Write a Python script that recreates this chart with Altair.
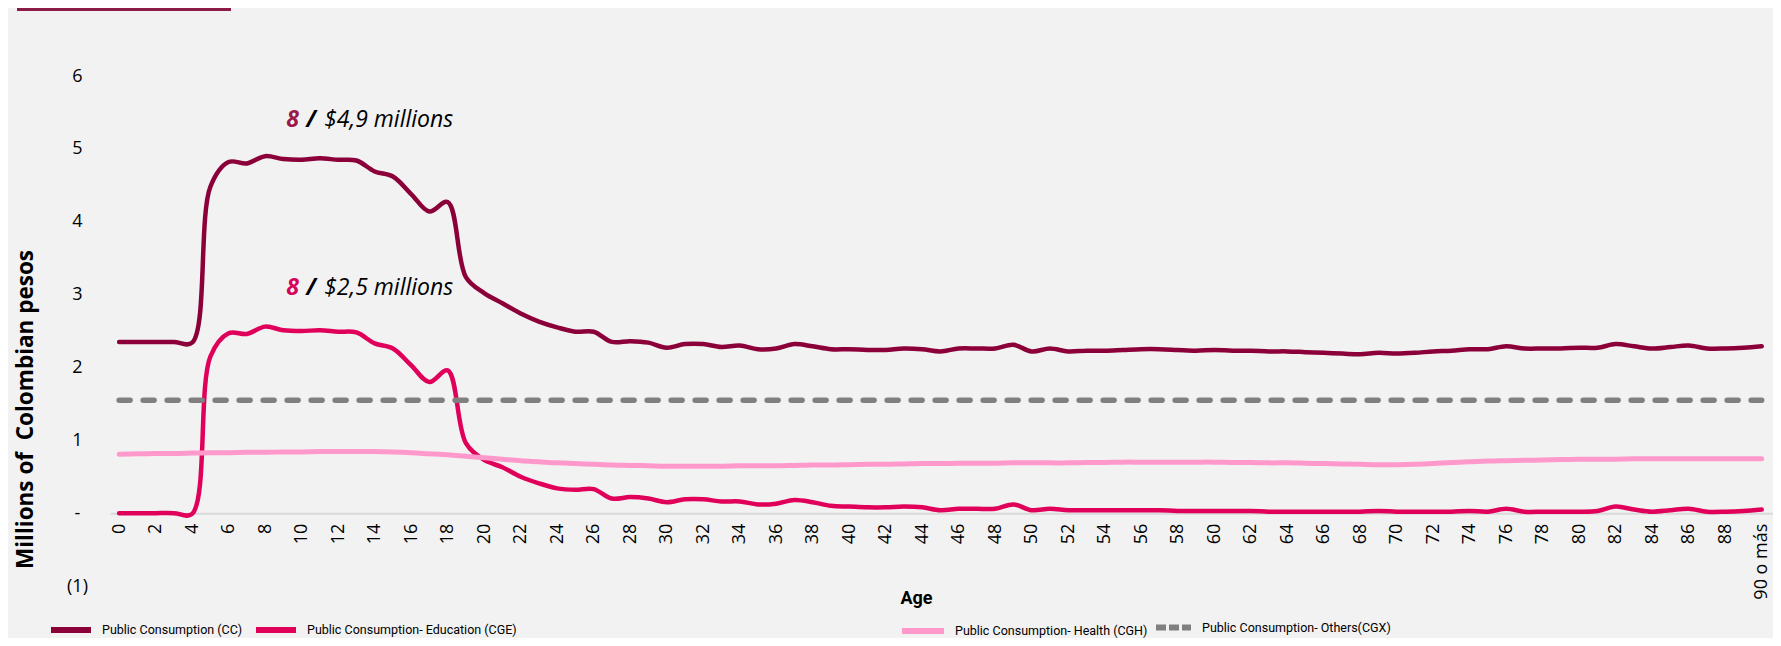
import altair as alt
import pandas as pd

# ---------------- data ----------------
ages = list(range(91))

cc = [2.35, 2.35, 2.35, 2.35, 2.34, 4.48, 4.82, 4.80, 4.90, 4.86,
      4.85, 4.87, 4.85, 4.84, 4.69, 4.62, 4.38, 4.14, 4.27, 3.24,
      3.02, 2.88, 2.74, 2.63, 2.55, 2.49, 2.49, 2.35, 2.36, 2.34,
      2.27, 2.32, 2.32, 2.28, 2.30, 2.25, 2.26, 2.32, 2.29, 2.25,
      2.25, 2.24, 2.24, 2.26, 2.25, 2.22, 2.26, 2.26, 2.26, 2.31,
      2.22, 2.26, 2.22, 2.23, 2.23, 2.24, 2.25, 2.25, 2.24, 2.23,
      2.24, 2.23, 2.23, 2.22, 2.22, 2.21, 2.20, 2.19, 2.18, 2.20,
      2.19, 2.20, 2.22, 2.23, 2.25, 2.25, 2.29, 2.26, 2.26, 2.26,
      2.27, 2.27, 2.32, 2.29, 2.26, 2.28, 2.30, 2.26, 2.26, 2.27,
      2.29]

cge = [0.00, 0.00, 0.00, 0.00, -0.01, 2.15, 2.47, 2.46, 2.56, 2.51,
       2.50, 2.51, 2.49, 2.48, 2.33, 2.26, 2.03, 1.80, 1.96, 0.96,
       0.73, 0.63, 0.50, 0.41, 0.34, 0.32, 0.33, 0.20, 0.22, 0.20,
       0.15, 0.19, 0.19, 0.16, 0.16, 0.12, 0.13, 0.18, 0.15, 0.10,
       0.09, 0.08, 0.08, 0.09, 0.08, 0.04, 0.06, 0.06, 0.06, 0.12,
       0.04, 0.06, 0.04, 0.04, 0.04, 0.04, 0.04, 0.04, 0.03, 0.03,
       0.03, 0.03, 0.03, 0.02, 0.02, 0.02, 0.02, 0.02, 0.02, 0.03,
       0.02, 0.02, 0.02, 0.02, 0.03, 0.02, 0.06, 0.02, 0.02, 0.02,
       0.02, 0.03, 0.09, 0.05, 0.02, 0.04, 0.06, 0.02, 0.02, 0.03,
       0.05]

cgh = [0.81, 0.815, 0.82, 0.82, 0.825, 0.83, 0.83, 0.835, 0.835, 0.84,
       0.84, 0.845, 0.845, 0.845, 0.845, 0.84, 0.83, 0.815, 0.80, 0.78,
       0.76, 0.74, 0.72, 0.705, 0.69, 0.68, 0.67, 0.66, 0.655, 0.65,
       0.645, 0.645, 0.645, 0.645, 0.65, 0.65, 0.65, 0.655, 0.66, 0.66,
       0.665, 0.67, 0.67, 0.675, 0.68, 0.68, 0.685, 0.685, 0.685, 0.69,
       0.69, 0.69, 0.69, 0.695, 0.695, 0.70, 0.70, 0.70, 0.70, 0.70,
       0.70, 0.695, 0.695, 0.69, 0.69, 0.685, 0.68, 0.675, 0.67, 0.665,
       0.665, 0.67, 0.68, 0.695, 0.705, 0.715, 0.72, 0.725, 0.73, 0.735,
       0.74, 0.74, 0.74, 0.745, 0.745, 0.745, 0.745, 0.745, 0.745, 0.745,
       0.745]

cgx = [1.55, 1.55, 1.55, 1.55, 1.55, 1.55, 1.55, 1.55, 1.55, 1.55,
       1.55, 1.55, 1.55, 1.55, 1.55, 1.55, 1.55, 1.55, 1.55, 1.55,
       1.55, 1.55, 1.55, 1.55, 1.55, 1.55, 1.55, 1.55, 1.55, 1.55,
       1.55, 1.55, 1.55, 1.55, 1.55, 1.55, 1.55, 1.55, 1.55, 1.55,
       1.55, 1.55, 1.55, 1.55, 1.55, 1.55, 1.55, 1.55, 1.55, 1.55,
       1.55, 1.55, 1.55, 1.55, 1.55, 1.55, 1.55, 1.55, 1.55, 1.55,
       1.55, 1.55, 1.55, 1.55, 1.55, 1.55, 1.55, 1.55, 1.55, 1.55,
       1.55, 1.55, 1.55, 1.55, 1.55, 1.55, 1.55, 1.55, 1.55, 1.55,
       1.55, 1.55, 1.55, 1.55, 1.55, 1.55, 1.55, 1.55, 1.55, 1.55,
       1.55]

series_names = [
    "Public Consumption (CC)",
    "Public Consumption- Education (CGE)",
    "Public Consumption- Health (CGH)",
    "Public Consumption- Others(CGX)",
]
series_colors = ["#8c0039", "#e0005a", "#ff99cc", "#808080"]

x_tick_values = list(range(0, 91, 2))
y_tick_values = [-1, 0, 1, 2, 3, 4, 5, 6]

ann_age = [8, 8]
ann_value = [4.9, 2.5]
ann_lead = ["8", "8"]
ann_amount = ["$4,9 millions", "$2,5 millions"]

# ---------------- tables ----------------
rows = []
for name, vals in zip(series_names, [cc, cge, cgh, cgx]):
    for a, v in zip(ages, vals):
        rows.append({"age": a, "value": v, "series": name})
df = pd.DataFrame(rows)

ann_df = pd.DataFrame({"age": ann_age, "value": ann_value,
                       "lead": ann_lead, "amount": ann_amount})

# ---------------- layout / style ----------------
W, H = 1663, 510
FONT = "Open Sans"
NARROW = "Roboto"

x_scale = alt.Scale(domain=[-0.5, 90.62], nice=False, zero=False)
y_scale = alt.Scale(domain=[-1, 6], nice=False, zero=False)

x_axis = alt.Axis(
    values=x_tick_values, format="d",
    labelExpr="datum.value == 90 ? '90 o más' : datum.label",
    labelAngle=270, labelAlign="right", labelBaseline="middle",
    labelPadding=10, labelFont=FONT, labelFontSize=18, labelColor="#000000",
    labelOverlap=False, labelFlush=False, labelBound=False,
    ticks=False, tickSize=0, grid=False,
    domain=True, domainColor="#d9d9d9", domainWidth=2,
    offset=-H / 7.0,
    title="Age", titleFont=NARROW, titleFontSize=18, titleFontWeight="bold",
    titleColor="#000000", titleX=806, titleY=85, titleAlign="center",
    titleBaseline="middle",
)

y_axis = alt.Axis(
    values=y_tick_values,
    labelExpr="datum.value == 0 ? '-' : (datum.value < 0 ? '(' + abs(datum.value) + ')' : datum.label)",
    labelAlign="center", labelBaseline="middle", labelPadding=33,
    labelFont=FONT, labelFontSize=18, labelColor="#000000", labelOverlap=False,
    ticks=False, tickSize=0, domain=False, grid=False,
    title="Millions of\u00a0 Colombian pesos", titleFont=FONT, titleFontSize=22.5,
    titleFontWeight="bold", titleColor="#000000", titleAngle=270,
    titleX=-85, titleY=333, titleAlign="center", titleBaseline="middle",
)

x_enc = alt.X("age:Q", scale=x_scale, axis=x_axis)
y_enc = alt.Y("value:Q", scale=y_scale, axis=y_axis)

LEG_Y = 531
legend_x = [-62, 143, 789, 1043]
legend_len = [40, 40, 42, 35]
line_width = [4.5, 4.5, 5, 5.5]


def series_layer(i):
    name = series_names[i]
    dashed = i == 3
    leg = dict(orient="none", legendX=legend_x[i], legendY=LEG_Y, title=None,
               symbolType="stroke", symbolSize=legend_len[i] ** 2,
               symbolStrokeWidth=6, labelOffset=8, labelFont=NARROW,
               labelFontSize=12.5, labelColor="#000000", labelLimit=500, padding=0)
    mark = dict(strokeWidth=line_width[i], interpolate="catmull-rom",
                strokeCap="round", strokeJoin="round")
    if dashed:
        leg["symbolDash"] = [10, 3]
        mark["strokeDash"] = [11, 13]
    return (
        alt.Chart(df)
        .transform_filter(alt.datum.series == name)
        .mark_line(**mark)
        .encode(
            x=x_enc, y=y_enc,
            color=alt.Color("series:N",
                            scale=alt.Scale(domain=[name], range=[series_colors[i]]),
                            legend=alt.Legend(**leg)),
        )
    )


ann_dy = [-36, -43]
ann_lead_color = ["#9b1a4b", "#d6005a"]


def ann_layers(i):
    base = alt.Chart(ann_df.iloc[[i]]).encode(x=x_enc, y=y_enc)
    lead = base.mark_text(align="left", baseline="middle", dx=21, dy=ann_dy[i],
                          font=FONT, fontSize=23, fontStyle="italic",
                          fontWeight="bold", color=ann_lead_color[i]).encode(text="lead:N")
    slash = base.mark_text(align="left", baseline="middle", dx=41, dy=ann_dy[i],
                           font=FONT, fontSize=23, fontStyle="italic",
                           fontWeight="bold", color="#000000").encode(text=alt.value("/"))
    amount = base.mark_text(align="left", baseline="middle", dx=59, dy=ann_dy[i],
                            font=FONT, fontSize=23, fontStyle="italic",
                            color="#000000").encode(text="amount:N")
    return [lead, slash, amount]


top_bar = (
    alt.Chart(pd.DataFrame({"k": [0]}))
    .mark_rule(color="#8b1c47", strokeWidth=4)
    .encode(x=alt.value(-93), x2=alt.value(121), y=alt.value(-67))
)

layers = [series_layer(i) for i in range(4)] + ann_layers(0) + ann_layers(1) + [top_bar]

chart = (
    alt.layer(*layers)
    .resolve_scale(color="independent")
    .properties(
        width=W, height=H,
        background="#f2f2f2",
        padding={"left": 102, "top": 68, "right": 0, "bottom": 52},
        autosize=alt.AutoSizeParams(type="none"),
    )
    .configure_view(strokeWidth=0)
)

chart.save("out.html", embed_options={"renderer": "svg", "actions": False})
